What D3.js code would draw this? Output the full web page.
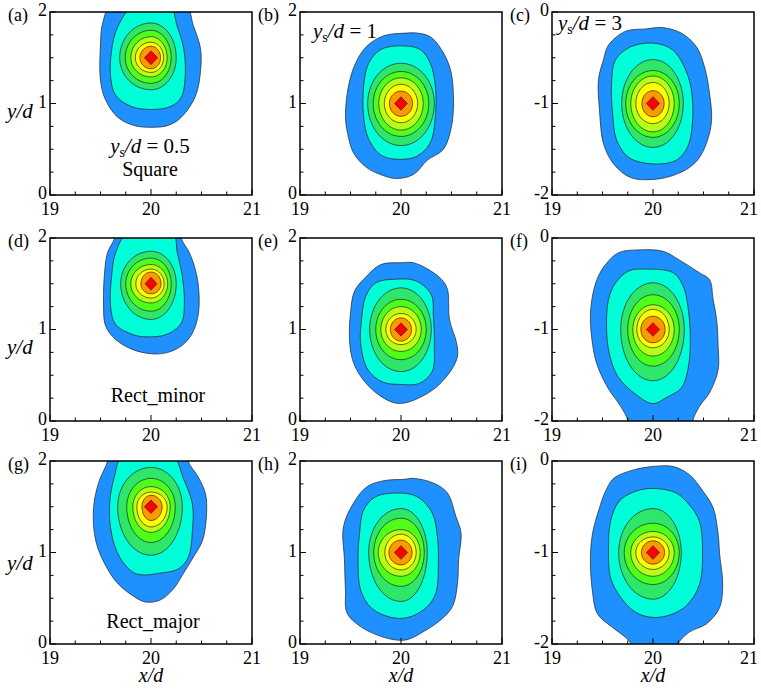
<!DOCTYPE html>
<html>
<head>
<meta charset="utf-8">
<script src="https://cdn.jsdelivr.net/npm/d3@7"></script>
<style>
  body { margin: 0; background: #fff; }
</style>
</head>
<body>
<div id="chart"></div>
<script>
// ---- data ----
const panelIds = ["a", "b", "c", "d", "e", "f", "g", "h", "i"];
const yDomains = [[0, 2], [0, 2], [-2, 0], [0, 2], [0, 2], [-2, 0], [0, 2], [0, 2], [-2, 0]];
const peaks = [[20, 1.5], [20, 1], [20, -1], [20, 1.5], [20, 1], [20, -1], [20, 1.5], [20, 1], [20, -1]];
const xTicks = [19, 20, 21];
const levelColors = ["#1e90ff", "#00ffd8", "#2ee66a", "#4dff1a", "#b8ff18", "#ffff00", "#ff9900", "#ff0000"];

// outer (blue) contour, [x/d, y/d]
const blueA = [[19.62, 2.1], [19.52, 1.87], [19.5, 1.65], [19.5, 1.25], [19.55, 1.04], [19.67, 0.85], [19.83, 0.76], [20.0, 0.74], [20.17, 0.76], [20.3, 0.85], [20.44, 1.08], [20.49, 1.35], [20.49, 1.6], [20.42, 1.85], [20.33, 2.1]];
const blueB = [[20.06, 1.77], [19.83, 1.74], [19.66, 1.625], [19.55, 1.44], [19.48, 1.19], [19.45, 0.86], [19.47, 0.68], [19.53, 0.46], [19.66, 0.3], [19.83, 0.21], [19.96, 0.18], [20.125, 0.225], [20.26, 0.38], [20.42, 0.5], [20.5, 0.75], [20.52, 1.04], [20.49, 1.37], [20.4, 1.59], [20.29, 1.73], [20.16, 1.77]];
const blueC = [[19.93, -0.185], [19.73, -0.21], [19.56, -0.36], [19.51, -0.52], [19.46, -0.74], [19.47, -1.07], [19.51, -1.44], [19.61, -1.66], [19.78, -1.81], [20.0, -1.83], [20.19, -1.79], [20.36, -1.7], [20.46, -1.59], [20.54, -1.4], [20.58, -1.18], [20.56, -0.89], [20.51, -0.6], [20.43, -0.38], [20.28, -0.23], [20.09, -0.17]];
const blueD = [[19.64, 2.09], [19.64, 2.0], [19.57, 1.84], [19.54, 1.62], [19.53, 1.29], [19.55, 1.04], [19.65, 0.89], [19.82, 0.78], [20.0, 0.735], [20.15, 0.745], [20.3, 0.82], [20.41, 0.96], [20.47, 1.18], [20.47, 1.47], [20.43, 1.69], [20.38, 1.84], [20.3, 2.0], [20.31, 2.09]];
const blueE = [[20.0, 1.73], [19.8, 1.71], [19.64, 1.56], [19.54, 1.42], [19.5, 1.18], [19.49, 0.89], [19.52, 0.67], [19.6, 0.49], [19.75, 0.31], [19.93, 0.2], [20.05, 0.2], [20.21, 0.27], [20.36, 0.38], [20.5, 0.56], [20.56, 0.71], [20.55, 0.855], [20.48, 1.11], [20.46, 1.44], [20.4, 1.55], [20.25, 1.67], [20.12, 1.73]];
const blueF = [[19.86, -0.13], [19.66, -0.16], [19.53, -0.29], [19.45, -0.44], [19.4, -0.64], [19.38, -0.89], [19.415, -1.25], [19.465, -1.44], [19.56, -1.65], [19.68, -1.84], [19.75, -2.0], [19.73, -2.09], [20.41, -2.09], [20.395, -2.0], [20.46, -1.84], [20.56, -1.69], [20.645, -1.44], [20.645, -1.18], [20.63, -0.89], [20.595, -0.67], [20.56, -0.455], [20.46, -0.38], [20.26, -0.24], [20.1, -0.145]];
const blueG = [[19.57, 2.08], [19.57, 2.0], [19.49, 1.79], [19.44, 1.57], [19.43, 1.31], [19.47, 1.06], [19.56, 0.84], [19.66, 0.675], [19.79, 0.55], [19.94, 0.46], [20.09, 0.48], [20.22, 0.6], [20.32, 0.77], [20.42, 0.95], [20.51, 1.13], [20.55, 1.42], [20.54, 1.64], [20.47, 1.82], [20.37, 2.0], [20.39, 2.08]];
const blueH = [[20.03, 1.8], [19.83, 1.785], [19.665, 1.72], [19.53, 1.54], [19.43, 1.28], [19.44, 0.92], [19.45, 0.59], [19.465, 0.34], [19.6, 0.19], [19.76, 0.1], [19.93, 0.047], [20.06, 0.047], [20.23, 0.14], [20.395, 0.265], [20.51, 0.41], [20.56, 0.665], [20.57, 0.92], [20.595, 1.21], [20.545, 1.39], [20.46, 1.65], [20.33, 1.755], [20.13, 1.81]];
const blueI = [[20.0, -0.06], [19.8, -0.1], [19.61, -0.19], [19.53, -0.33], [19.465, -0.53], [19.4, -0.8], [19.38, -1.09], [19.4, -1.42], [19.45, -1.67], [19.6, -1.82], [19.73, -1.93], [19.78, -2.0], [19.76, -2.07], [20.26, -2.07], [20.25, -2.0], [20.36, -1.87], [20.53, -1.78], [20.66, -1.6], [20.69, -1.35], [20.66, -1.02], [20.645, -0.8], [20.595, -0.51], [20.495, -0.33], [20.36, -0.15], [20.2, -0.06]];

// second (cyan) contour, [x/d, y/d]
const cyanA = [[19.84, 2.08], [19.67, 1.836], [19.61, 1.58], [19.6, 1.29], [19.65, 1.09], [19.8, 0.97], [20.0, 0.935], [20.2, 0.97], [20.3, 1.07], [20.34, 1.33], [20.32, 1.62], [20.26, 1.84], [20.18, 2.08]];
const cyanB = [[20.0, 1.63], [19.8, 1.59], [19.68, 1.44], [19.63, 1.19], [19.63, 0.86], [19.68, 0.61], [19.81, 0.43], [20.0, 0.39], [20.16, 0.425], [20.29, 0.57], [20.34, 0.86], [20.34, 1.19], [20.29, 1.44], [20.19, 1.59]];
const cyanC = [[20.0, -0.34], [19.78, -0.38], [19.63, -0.52], [19.59, -0.78], [19.6, -1.11], [19.64, -1.4], [19.76, -1.59], [20.0, -1.66], [20.23, -1.62], [20.34, -1.48], [20.39, -1.22], [20.38, -0.85], [20.31, -0.6], [20.19, -0.41]];
const cyanD = [[19.77, 2.05], [19.65, 1.84], [19.61, 1.58], [19.6, 1.25], [19.65, 1.055], [19.82, 0.945], [19.95, 0.92], [20.15, 0.945], [20.3, 1.07], [20.33, 1.29], [20.31, 1.58], [20.26, 1.84], [20.215, 2.05]];
const cyanE = [[19.95, 1.55], [19.75, 1.51], [19.65, 1.36], [19.61, 1.11], [19.6, 0.855], [19.67, 0.565], [19.82, 0.425], [20.0, 0.4], [20.18, 0.41], [20.31, 0.545], [20.33, 0.82], [20.32, 1.145], [20.3, 1.38], [20.15, 1.53]];
const cyanF = [[19.93, -0.34], [19.76, -0.36], [19.63, -0.49], [19.56, -0.67], [19.54, -0.96], [19.565, -1.25], [19.65, -1.51], [19.83, -1.71], [20.0, -1.81], [20.13, -1.745], [20.28, -1.64], [20.345, -1.44], [20.37, -1.11], [20.345, -0.745], [20.3, -0.53], [20.2, -0.38]];
const cyanG = [[19.72, 2.06], [19.64, 1.84], [19.59, 1.53], [19.61, 1.2], [19.69, 0.95], [19.82, 0.785], [19.92, 0.755], [20.09, 0.775], [20.27, 0.82], [20.37, 0.95], [20.41, 1.24], [20.41, 1.53], [20.32, 1.81], [20.21, 2.06]];
const cyanH = [[19.96, 1.65], [19.75, 1.61], [19.63, 1.465], [19.59, 1.21], [19.575, 0.92], [19.6, 0.59], [19.71, 0.39], [19.93, 0.285], [20.1, 0.3], [20.26, 0.41], [20.345, 0.556], [20.37, 0.885], [20.36, 1.175], [20.31, 1.43], [20.16, 1.61]];
const cyanI = [[20.01, -0.3], [19.83, -0.33], [19.665, -0.44], [19.58, -0.66], [19.56, -0.985], [19.58, -1.275], [19.68, -1.49], [19.83, -1.655], [20.01, -1.71], [20.2, -1.67], [20.345, -1.565], [20.46, -1.35], [20.49, -0.985], [20.46, -0.66], [20.36, -0.48], [20.23, -0.35]];

// inner levels 3..7 as extents from the peak [left, right, up, down]
const ringsA = [[0.31, 0.25, 0.38, 0.35], [0.255, 0.2, 0.3, 0.28], [0.2, 0.16, 0.23, 0.21], [0.155, 0.125, 0.17, 0.16], [0.11, 0.095, 0.125, 0.12]];
const ringsB = [[0.33, 0.33, 0.44, 0.46], [0.275, 0.275, 0.35, 0.36], [0.22, 0.22, 0.28, 0.29], [0.165, 0.165, 0.21, 0.21], [0.115, 0.115, 0.135, 0.14]];
const ringsC = [[0.31, 0.3, 0.48, 0.48], [0.27, 0.26, 0.36, 0.37], [0.22, 0.21, 0.3, 0.31], [0.17, 0.16, 0.23, 0.22], [0.11, 0.11, 0.14, 0.145]];
const ringsD = [[0.3, 0.25, 0.355, 0.39], [0.25, 0.2, 0.28, 0.3], [0.2, 0.165, 0.21, 0.21], [0.15, 0.13, 0.16, 0.156], [0.1, 0.1, 0.127, 0.11]];
const ringsE = [[0.31, 0.3, 0.455, 0.46], [0.25, 0.25, 0.33, 0.33], [0.2, 0.2, 0.25, 0.24], [0.15, 0.15, 0.175, 0.165], [0.105, 0.105, 0.127, 0.127]];
const ringsF = [[0.32, 0.31, 0.51, 0.56], [0.25, 0.26, 0.38, 0.4], [0.2, 0.21, 0.27, 0.29], [0.16, 0.16, 0.22, 0.2], [0.12, 0.12, 0.145, 0.145]];
const ringsG = [[0.33, 0.31, 0.43, 0.53], [0.24, 0.24, 0.31, 0.39], [0.18, 0.19, 0.22, 0.28], [0.14, 0.16, 0.16, 0.22], [0.09, 0.11, 0.125, 0.15]];
const ringsH = [[0.32, 0.26, 0.48, 0.535], [0.27, 0.23, 0.375, 0.37], [0.225, 0.19, 0.25, 0.26], [0.16, 0.15, 0.2, 0.19], [0.12, 0.11, 0.135, 0.135]];
const ringsI = [[0.34, 0.28, 0.48, 0.51], [0.285, 0.26, 0.32, 0.35], [0.22, 0.21, 0.23, 0.26], [0.17, 0.16, 0.17, 0.185], [0.115, 0.115, 0.127, 0.127]];

// red peak diamond half sizes [dx, dy]
const diamonds = [[0.065, 0.075], [0.063, 0.073], [0.065, 0.075], [0.058, 0.07], [0.063, 0.072], [0.065, 0.075], [0.065, 0.073], [0.065, 0.075], [0.065, 0.075]];

const blues = [blueA, blueB, blueC, blueD, blueE, blueF, blueG, blueH, blueI];
const cyans = [cyanA, cyanB, cyanC, cyanD, cyanE, cyanF, cyanG, cyanH, cyanI];
const rings = [ringsA, ringsB, ringsC, ringsD, ringsE, ringsF, ringsG, ringsH, ringsI];

// ---- layout ----
const width = 761, height = 691;
const colLeft = [50, 300, 552];
const rowTop = [12, 238, 461];
const pw = 202, ph = 183;
const serif = "Liberation Serif";

const svg = d3.select("#chart").append("svg")
  .attr("width", width)
  .attr("height", height);

const line = d3.line().curve(d3.curveCatmullRomClosed.alpha(0.5));
const poly = d3.line().curve(d3.curveLinearClosed);

panelIds.forEach((id, k) => {
  const col = k % 3, row = Math.floor(k / 3);
  const g = svg.append("g")
    .attr("transform", `translate(${colLeft[col]},${rowTop[row]})`);

  const x = d3.scaleLinear().domain([19, 21]).range([0, pw]);
  const y = d3.scaleLinear().domain(yDomains[k]).range([ph, 0]);

  g.append("clipPath").attr("id", "clip-" + id)
    .append("rect").attr("width", pw).attr("height", ph);

  const plot = g.append("g").attr("clip-path", `url(#clip-${id})`);
  const [cx, cy] = peaks[k];

  // outer two contours
  [blues[k], cyans[k]].forEach((pts, i) => {
    plot.append("path")
      .attr("d", line(pts.map(p => [x(p[0]), y(p[1])])))
      .attr("fill", levelColors[i])
      .attr("stroke", "#222")
      .attr("stroke-width", 0.7);
  });

  // inner contours, one quarter-ellipse per quadrant
  rings[k].forEach((r, i) => {
    const pts = d3.range(0, 72).map(j => {
      const a = j / 72 * 2 * Math.PI;
      const c = Math.cos(a), s = Math.sin(a);
      const rx = c >= 0 ? r[1] : r[0];
      const ry = s >= 0 ? r[2] : r[3];
      return [x(cx + rx * c), y(cy + ry * s)];
    });
    plot.append("path")
      .attr("d", poly(pts))
      .attr("fill", levelColors[i + 2])
      .attr("stroke", "#222")
      .attr("stroke-width", 0.7);
  });

  const [dx, dy] = diamonds[k];
  plot.append("path")
    .attr("d", poly([[x(cx + dx), y(cy)], [x(cx), y(cy + dy)], [x(cx - dx), y(cy)], [x(cx), y(cy - dy)]]))
    .attr("fill", levelColors[7])
    .attr("stroke", "#222")
    .attr("stroke-width", 0.7);

  // ticks (inward)
  const xMinor = d3.range(19, 21.001, 0.25);
  const yMinor = d3.range(yDomains[k][0], yDomains[k][1] + 0.001, 0.25);
  g.selectAll(".xt").data(xMinor).enter().append("line")
    .attr("x1", d => x(d)).attr("x2", d => x(d))
    .attr("y1", ph).attr("y2", d => ph - (Number.isInteger(d) ? 6 : 3.5))
    .attr("stroke", "#000").attr("stroke-width", 1);
  g.selectAll(".yt").data(yMinor).enter().append("line")
    .attr("y1", d => y(d)).attr("y2", d => y(d))
    .attr("x1", 0).attr("x2", d => (Number.isInteger(d) ? 6 : 3.5))
    .attr("stroke", "#000").attr("stroke-width", 1);

  g.append("rect")
    .attr("width", pw).attr("height", ph)
    .attr("fill", "none").attr("stroke", "#000").attr("stroke-width", 1.5);

  // tick labels
  g.selectAll(".xl").data(xTicks).enter().append("text")
    .attr("x", d => Math.min(x(d), width - 12 - colLeft[col]))
    .attr("y", ph + 20)
    .attr("text-anchor", "middle")
    .attr("font-family", serif).attr("font-size", 18)
    .text(d => d);
  const yMajor = d3.range(yDomains[k][0], yDomains[k][1] + 0.001, 1);
  g.selectAll(".yl").data(yMajor).enter().append("text")
    .attr("x", -3).attr("y", d => y(d) + 4)
    .attr("text-anchor", "end")
    .attr("font-family", serif).attr("font-size", 18)
    .text(d => d);

  g.append("text")
    .attr("x", -42).attr("y", 9)
    .attr("font-family", serif).attr("font-size", 18)
    .text("(" + id + ")");

  if (col === 0) {
    g.append("text")
      .attr("x", -43).attr("y", y(1) + [14, 24, 17][row])
      .attr("font-family", serif).attr("font-size", 21).attr("font-style", "italic")
      .text("y/d");
  }
  if (row === 2) {
    g.append("text")
      .attr("x", x(20)).attr("y", ph + 38)
      .attr("text-anchor", "middle")
      .attr("font-family", serif).attr("font-size", 20).attr("font-style", "italic")
      .text("x/d");
  }
});

// annotations
function ysLabel(parent, px, py, value, anchor) {
  const t = parent.append("text")
    .attr("x", px).attr("y", py)
    .attr("font-family", serif).attr("font-size", 21)
    .attr("text-anchor", anchor);
  t.append("tspan").attr("font-style", "italic").text("y");
  t.append("tspan").attr("font-size", 14).attr("dy", 4).text("s");
  t.append("tspan").attr("font-style", "italic").attr("dy", -4).text("/d");
  t.append("tspan").text(" = " + value);
}
const ysValues = ["0.5", "1", "3"];
ysLabel(svg, 150, 153, ysValues[0], "middle");
ysLabel(svg, 313, 38, ysValues[1], "start");
ysLabel(svg, 558, 30, ysValues[2], "start");

const shapeNames = ["Square", "Rect_minor", "Rect_major"];
const shapeLabelPos = [[150, 176], [158, 402], [153, 628]];
shapeNames.forEach((s, i) => {
  svg.append("text")
    .attr("x", shapeLabelPos[i][0]).attr("y", shapeLabelPos[i][1])
    .attr("text-anchor", "middle")
    .attr("font-family", serif).attr("font-size", 20)
    .text(s);
});
</script>
</body>
</html>
